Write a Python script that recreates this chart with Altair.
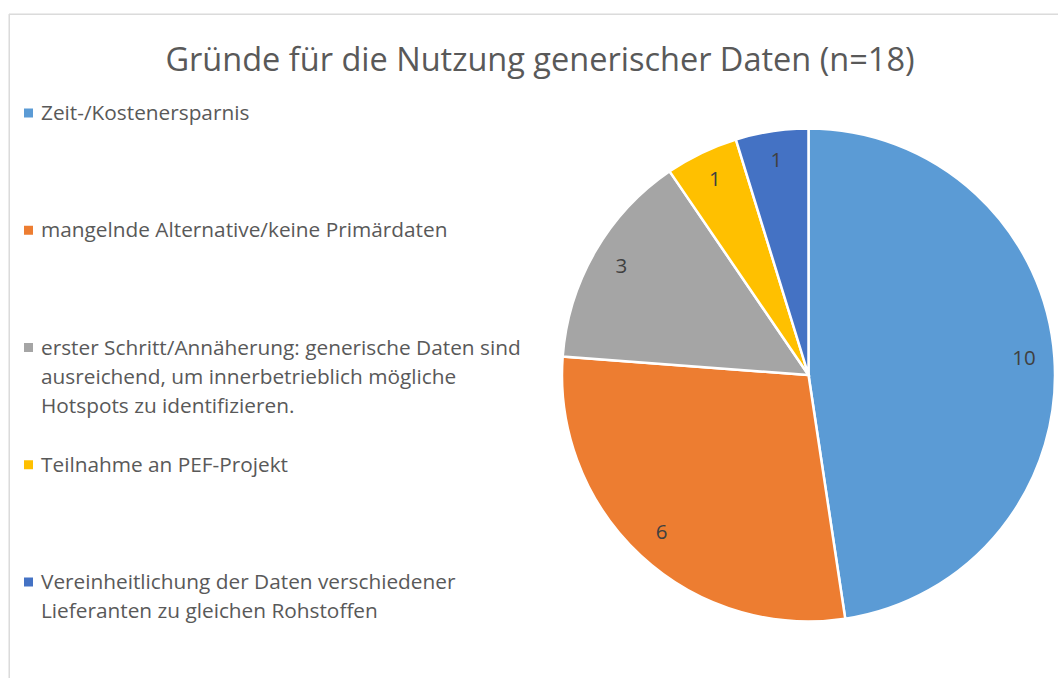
import altair as alt
import pandas as pd

# Survey answers: reasons for using generic data
categories = [
    "Zeit-/Kostenersparnis",
    "mangelnde Alternative/keine Primärdaten",
    "erster Schritt/Annäherung: generische Daten sind ausreichend, um innerbetrieblich mögliche Hotspots zu identifizieren.",
    "Teilnahme an PEF-Projekt",
    "Vereinheitlichung der Daten verschiedener Lieferanten zu gleichen Rohstoffen",
]
counts = [10, 6, 3, 1, 1]
legend_labels = [
    "Zeit-/Kostenersparnis",
    "mangelnde Alternative/keine Primärdaten",
    "erster Schritt/Annäherung: generische Daten sind\nausreichend, um innerbetrieblich mögliche\nHotspots zu identifizieren.",
    "Teilnahme an PEF-Projekt",
    "Vereinheitlichung der Daten verschiedener\nLieferanten zu gleichen Rohstoffen",
]
colors = ["#5B9BD5", "#ED7D31", "#A5A5A5", "#FFC000", "#4472C4"]
title_text = "Gründe für die Nutzung generischer Daten (n=18)"

FONT = "Open Sans"
TEXT_COLOR = "#595959"
W, H = 1049, 664
CX, CY, R = 799.5, 361, 246.5

df = pd.DataFrame({
    "category": categories,
    "count": counts,
    "label": legend_labels,
    "idx": list(range(len(categories))),
})

color = alt.Color("category:N", scale=alt.Scale(domain=categories, range=colors), legend=None)
theta = alt.Theta("count:Q", stack=True)
order = alt.Order("idx:Q")

base = alt.Chart(df)

pie = base.mark_arc(outerRadius=R, stroke="white", strokeWidth=2.5).encode(
    theta=theta, color=color, order=order, x=alt.value(CX), y=alt.value(CY)
)

pie_labels = base.mark_text(radius=216, fontSize=20.5, font=FONT, color="#404040").encode(
    theta=theta, order=order, text="count:Q", x=alt.value(CX), y=alt.value(CY)
)

legend_y = alt.Y(
    "category:N",
    scale=alt.Scale(type="point", domain=categories, range=[99, 568], padding=0),
    axis=None,
)

legend_marks = base.mark_square(size=81, opacity=1).encode(
    x=alt.value(19.5), y=legend_y, color=color
)

legend_text = base.mark_text(
    align="left", baseline="alphabetic", dy=7, fontSize=20.8, font=FONT,
    color=TEXT_COLOR, lineBreak="\n", lineHeight=29,
).encode(x=alt.value(32), y=legend_y, text="label:N")

title = alt.Chart(pd.DataFrame({"t": [title_text]})).mark_text(
    align="center", baseline="alphabetic", fontSize=32.5, font=FONT, color=TEXT_COLOR
).encode(x=alt.value(531), y=alt.value(57), text="t:N")

frame_top = alt.Chart(pd.DataFrame({"t": [0]})).mark_rule(color="#d9d9d9", strokeWidth=1).encode(
    x=alt.value(0), x2=alt.value(W), y=alt.value(0)
)
frame_left = alt.Chart(pd.DataFrame({"t": [0]})).mark_rule(color="#d9d9d9", strokeWidth=1).encode(
    x=alt.value(0), y=alt.value(0), y2=alt.value(H)
)

chart = alt.layer(
    frame_top, frame_left, pie, pie_labels, legend_marks, legend_text, title
).properties(
    width=W, height=H,
    padding={"left": 9, "top": 14, "right": 0, "bottom": 0},
    autosize=alt.AutoSizeParams(type="none"),
).configure_view(stroke=None).configure(background="white")

chart.save("out.html", embed_options={"renderer": "svg", "actions": False})
